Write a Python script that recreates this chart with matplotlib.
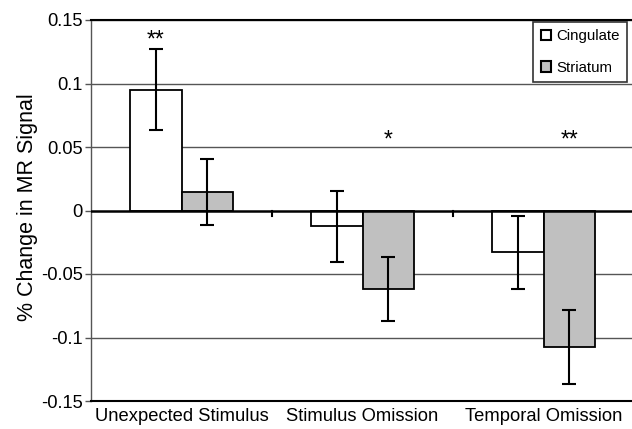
import matplotlib
matplotlib.use("Agg")
import matplotlib.pyplot as plt
from matplotlib.patches import Patch
import numpy as np

categories = ["Unexpected Stimulus", "Stimulus Omission", "Temporal Omission"]
cingulate = [0.095, -0.0125, -0.033]
cingulate_err = [0.032, 0.028, 0.029]
striatum = [0.0145, -0.062, -0.1075]
striatum_err = [0.026, 0.025, 0.029]
series_names = ["Cingulate", "Striatum"]
sig_labels = ["**", "*", "**"]
sig_series = [0, 1, 1]   # which bar the marker sits above
sig_y = [0.1295, 0.0505, 0.0505]
yticks = [-0.15, -0.1, -0.05, 0, 0.05, 0.1, 0.15]
ytick_labels = ["-0.15", "-0.1", "-0.05", "0", "0.05", "0.1", "0.15"]

plt.rcParams['font.family'] = ['Liberation Sans', 'DejaVu Sans']

fig = plt.figure(figsize=(6.32, 4.29), dpi=100)
ax = fig.add_axes([91/632, 1-401/429, 543/632, 381/429])

x = np.arange(len(categories))
w = 0.285
colors = ["white", "#c0c0c0"]
ax.set_axisbelow(True)
for v in yticks:
    if v != 0:
        ax.axhline(v, color="#555555", lw=1.0, zorder=0)

ax.bar(x - w/2, cingulate, w, color=colors[0], edgecolor="black", lw=1.3, zorder=2)
ax.bar(x + w/2, striatum, w, color=colors[1], edgecolor="black", lw=1.3, zorder=2)
ax.errorbar(x - w/2, cingulate, yerr=cingulate_err, fmt="none", ecolor="black",
            elinewidth=1.5, capsize=5, capthick=1.5, zorder=3)
ax.errorbar(x + w/2, striatum, yerr=striatum_err, fmt="none", ecolor="black",
            elinewidth=1.5, capsize=5, capthick=1.5, zorder=3)

ax.axhline(0, color="black", lw=1.8, zorder=4)
# category boundary ticks on the zero line
for b in x[:-1] + 0.5:
    ax.plot([b, b], [0, -0.004], color="black", lw=1.5, zorder=4)

for i, (lab, s, yy) in enumerate(zip(sig_labels, sig_series, sig_y)):
    xx = x[i] - w/2 if s == 0 else x[i] + w/2
    ax.text(xx, yy, lab, ha="center", va="baseline", fontsize=16.5)

ax.set_xlim(-0.5, len(categories) - 0.5)
ax.set_ylim(-0.15, 0.15)
ax.set_yticks(yticks)
ax.set_yticklabels(ytick_labels)
ax.set_xticks(x)
ax.set_xticklabels(categories)
ax.tick_params(axis="y", labelsize=13.2, length=4, width=1, color="#555555", pad=2)
ax.tick_params(axis="x", labelsize=13.2, length=0, pad=5)

ax.spines["right"].set_visible(False)
ax.spines["top"].set_color("black")
ax.spines["top"].set_linewidth(1.5)
ax.spines["bottom"].set_color("black")
ax.spines["bottom"].set_linewidth(1.5)
ax.spines["left"].set_color("#555555")
ax.spines["left"].set_linewidth(1.0)

ax.set_ylabel("% Change in MR Signal", fontsize=15.5)
ax.yaxis.set_label_coords(-0.098, 0.51)

handles = [Patch(facecolor=colors[0], edgecolor="black", lw=1.5),
           Patch(facecolor=colors[1], edgecolor="black", lw=1.5)]
leg = ax.legend(handles, series_names, loc="upper right", bbox_to_anchor=(0.987, 0.995),
                fontsize=10.8, frameon=True, fancybox=False, handlelength=0.65,
                handleheight=0.7, handletextpad=0.35, borderpad=0.5, labelspacing=1.15,
                borderaxespad=0)
leg.get_frame().set_edgecolor("black")
leg.get_frame().set_linewidth(1.2)
leg.set_zorder(5)

fig.savefig("out.png", dpi=100)
